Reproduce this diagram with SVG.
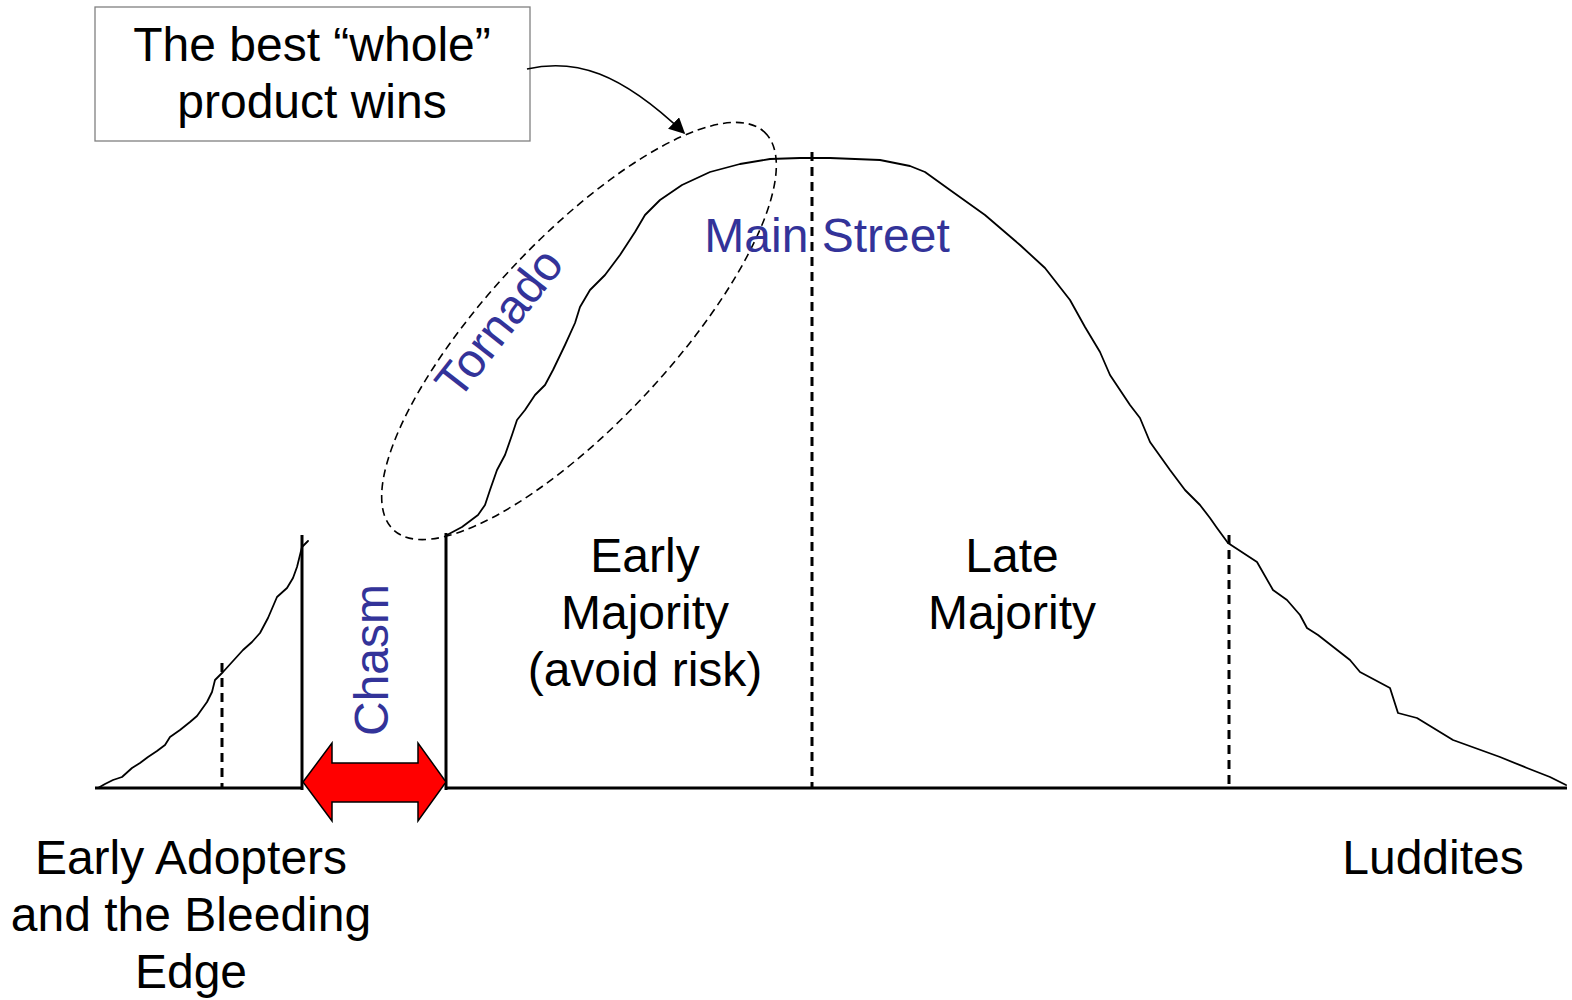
<svg xmlns="http://www.w3.org/2000/svg" width="1572" height="1000" viewBox="0 0 1572 1000">
<style>
.t{font-family:"Liberation Sans",Arial,Helvetica,sans-serif;font-size:48px;fill:#000;text-anchor:middle}
.b{fill:#333399}
.curve{fill:none;stroke:#000;stroke-width:1.8;stroke-linejoin:round;stroke-linecap:round}
.solid{stroke:#000;stroke-width:3;fill:none}
.dash{stroke:#000;stroke-width:3;stroke-dasharray:9 6;fill:none}
</style>
<defs>
<marker id="ah" viewBox="0 0 10 10" refX="9" refY="5" markerWidth="16" markerHeight="16" markerUnits="userSpaceOnUse" orient="auto">
<path d="M0,0 L10,5 L0,10 z" fill="#000"/>
</marker>
</defs>
<rect width="1572" height="1000" fill="#fff"/>

<g id="curves">
<path class="curve" d="M98,788 L105,784 L113,780 L122,777 L132,768 L140,763 L148,757 L157,751 L165,745 L170,737 L180,730 L190,722 L197,716 L207,702 L212,692 L215,680 L223,672 L233,661 L243,650 L252,642 L260,633 L268,618 L277,597 L287,588 L293,578 L297,567 L300,555 L302,547 L308,541"/>
<path class="curve" d="M447,535 L462,527 L478,515 L485,505 L490,490 L497,470 L505,455 L512,435 L517,420 L525,410 L535,395 L545,385 L553,370 L565,345 L575,323 L580,307 L590,290 L605,275 L620,255 L635,232 L645,215 L660,200 L682,185 L710,172 L740,164 L770,159 L800,158 L830,158 L880,160 L910,166 L925,172 L950,190 L985,215 L1020,245 L1045,268 L1070,300 L1085,327 L1100,352 L1110,375 L1130,405 L1140,418 L1150,442 L1170,470 L1185,490 L1195,500 L1200,505 L1210,518 L1217,528 L1228,543 L1257,562 L1273,590 L1287,600 L1300,615 L1307,628 L1318,635 L1350,660 L1360,672 L1390,688 L1398,713 L1417,718 L1453,740 L1500,757 L1527,768 L1550,777 L1566,785"/>
</g>

<g id="axes">
<line class="solid" x1="95" y1="788" x2="303" y2="788"/>
<line class="solid" x1="446" y1="788" x2="1567" y2="788"/>
<line class="solid" x1="302" y1="535" x2="302" y2="790"/>
<line class="solid" x1="446" y1="533" x2="446" y2="790"/>
<line class="dash" x1="222" y1="663" x2="222" y2="788"/>
<line class="dash" x1="812" y1="152" x2="812" y2="788"/>
<line class="dash" x1="1229" y1="535" x2="1229" y2="788"/>
</g>

<g id="tornado-ellipse">
<ellipse cx="579" cy="331" rx="272" ry="92" transform="rotate(-47 579 331)" fill="none" stroke="#000" stroke-width="1.6" stroke-dasharray="8 5"/>
</g>

<g id="chasm-arrow">
<polygon points="303,782 332,743 332,763 418,763 418,743 446,782 418,821 418,802 332,802 332,821" fill="#ff0000" stroke="#000" stroke-width="1.5" stroke-linejoin="miter"/>
</g>

<g id="callout">
<rect x="95" y="7" width="435" height="134" fill="#fff" stroke="#808080" stroke-width="1.3"/>
<text class="t" x="312" y="61">The best “whole”</text>
<text class="t" x="312" y="118">product wins</text>
</g>

<g id="connectors">
<path d="M527,69 C575,58 620,72 684,133" fill="none" stroke="#000" stroke-width="1.6" marker-end="url(#ah)"/>
</g>

<g id="labels">
<text class="t b" x="827" y="252">Main Street</text>
<text class="t b" transform="translate(512,333) rotate(-52)">Tornado</text>
<text class="t b" transform="translate(388,660) rotate(-90)">Chasm</text>
<text class="t" x="645" y="572">Early</text>
<text class="t" x="645" y="629">Majority</text>
<text class="t" x="645" y="686">(avoid risk)</text>
<text class="t" x="1012" y="572">Late</text>
<text class="t" x="1012" y="629">Majority</text>
<text class="t" x="191" y="874">Early Adopters</text>
<text class="t" x="191" y="931">and the Bleeding</text>
<text class="t" x="191" y="988">Edge</text>
<text class="t" x="1433" y="874">Luddites</text>
</g>
</svg>
